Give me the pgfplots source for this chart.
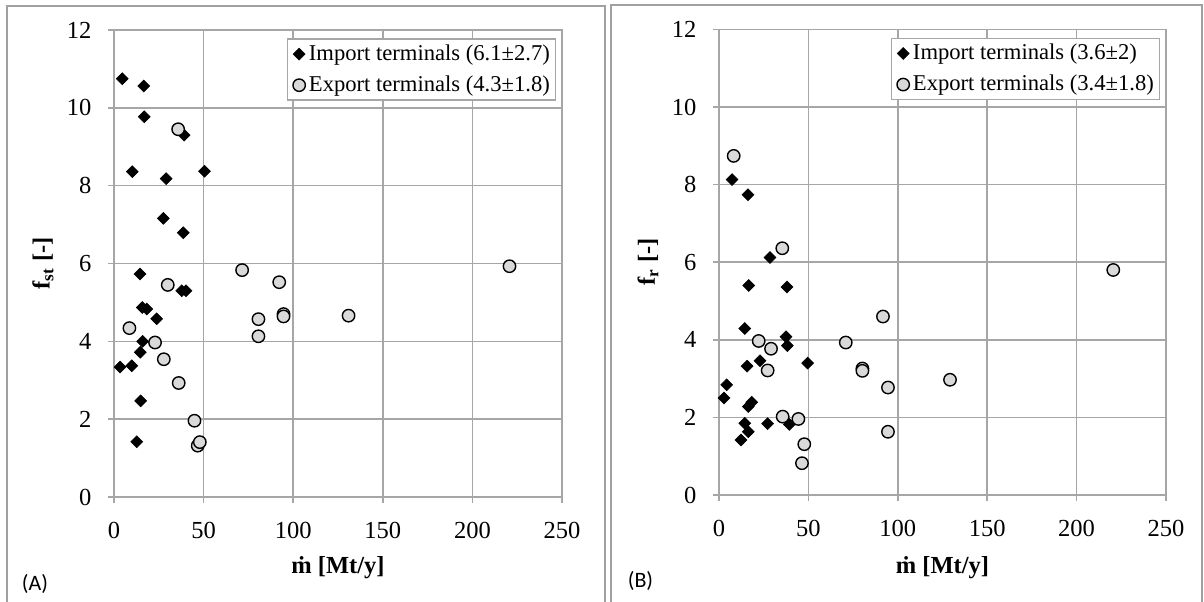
\documentclass[border=0pt]{standalone}
\usepackage{fontspec}
\setmainfont{Liberation Serif}
\newfontfamily\carlito{Carlito}
\usepackage{pgfplots}
\pgfplotsset{compat=1.18}
\definecolor{ltgray}{HTML}{D9D9D9}
\definecolor{gridgray}{HTML}{A6A6A6}
\definecolor{framegray}{HTML}{A0A0A0}

\pgfplotsset{
  panel/.style={
    scale only axis,
    anchor=south west,
    xmin=0, xmax=250, ymin=0, ymax=12,
    xtick={0,50,...,250}, ytick={0,2,...,12},
    grid=major,
    grid style={gridgray, line width=0.75pt},
    axis line style={gridgray, line width=0.75pt},
    tick style={gridgray, line width=0.75pt},
    tick align=outside, major tick length=3pt, tick pos=left,
    /pgf/number format/assume math mode=true,
    ticklabel style={font=\fontsize{12.25}{14}\selectfont, text=black},
    yticklabel style={xshift=-4.8pt},
    xticklabel style={yshift=-6pt},
    label style={font=\fontsize{12.25}{14}\selectfont\bfseries},
    legend style={font=\fontsize{11.3}{13}\selectfont, draw=gridgray, line width=0.75pt,
      at={(0.987,0.982)}, anchor=north east, inner sep=1pt, row sep=2.6pt,
      nodes={inner sep=1.8pt}},
    legend cell align=left,
    legend image code/.code={\path (-1.4pt,0pt); \draw[#1, only marks] plot coordinates {(3pt,0pt)};},
    imp/.style={only marks, mark=square*, mark size=2.1pt,
      mark options={rotate=45, fill=black, draw=black, line width=0.3pt}},
    exp/.style={only marks, mark=*, mark size=3.1pt,
      mark options={fill=ltgray, draw=black, line width=0.7pt}},
  }
}

\begin{document}
\begin{tikzpicture}
\useasboundingbox (0,0) rectangle (602pt,300.5pt);
\draw[framegray, line width=1pt] (3.5pt,-5pt) -- (3.5pt,297.5pt) -- (302.5pt,297.5pt) -- (302.5pt,-5pt);
\draw[framegray, line width=1pt] (305.5pt,-5pt) -- (305.5pt,298pt) -- (601pt,298pt) -- (601pt,-5pt);

\begin{axis}[panel, at={(57pt,52pt)}, width=224pt, height=233.5pt,
  xlabel={ṁ [Mt/y]}, ylabel={f\textsubscript{st} [-]},
  xlabel style={at={(axis description cs:0.5,-0.152)}, anchor=center},
  ylabel style={at={(axis description cs:-0.1585,0.5)}, anchor=center}]
\addplot[imp] coordinates {
(4.6,10.75) (16.6,10.56) (16.9,9.77) (39.1,9.30) (10.2,8.36) (29.1,8.18)
(50.5,8.37) (27.5,7.16) (38.7,6.79) (14.5,5.73) (37.8,5.30) (40.2,5.30)
(15.8,4.87) (18.3,4.83) (23.8,4.58) (16.0,4.00) (14.7,3.72) (3.4,3.34)
(9.9,3.37) (14.9,2.47) (12.7,1.42)
};
\addlegendentry{Import terminals (6.1±2.7)}
\addplot[exp] coordinates {
(35.8,9.45) (30.0,5.45) (71.5,5.83) (92.2,5.52) (8.6,4.34) (80.6,4.57)
(80.6,4.13) (94.6,4.70) (94.6,4.64) (130.9,4.66) (22.9,3.97) (27.8,3.54)
(36.1,2.93) (44.9,1.96) (46.7,1.32) (47.9,1.41) (220.7,5.93)
};
\addlegendentry{Export terminals (4.3±1.8)}
\end{axis}

\begin{axis}[panel, at={(359.5pt,53pt)}, width=223.5pt, height=232.8pt,
  xlabel={ṁ [Mt/y]}, ylabel={f\textsubscript{r} [-]},
  xlabel style={at={(axis description cs:0.5,-0.157)}, anchor=center},
  ylabel style={at={(axis description cs:-0.159,0.5)}, anchor=center}]
\addplot[imp] coordinates {
(7.3,8.13) (16.2,7.74) (28.5,6.12) (16.6,5.40) (38.0,5.36) (14.4,4.29)
(37.5,4.08) (38.2,3.85) (22.9,3.46) (49.6,3.40) (15.7,3.32) (4.3,2.84)
(2.8,2.50) (18.3,2.39) (16.4,2.28) (14.4,1.85) (27.2,1.84) (39.3,1.82)
(16.4,1.63) (12.3,1.42)
};
\addlegendentry{Import terminals (3.6±2)}
\addplot[exp] coordinates {
(8.2,8.74) (35.4,6.36) (91.7,4.60) (22.2,3.97) (70.9,3.93) (29.1,3.77)
(27.2,3.21) (80.2,3.26) (80.2,3.20) (94.5,2.77) (35.6,2.02) (44.4,1.96)
(94.5,1.63) (47.7,1.31) (46.4,0.82) (129.2,2.97) (220.5,5.80)
};
\addlegendentry{Export terminals (3.4±1.8)}
\end{axis}

\node[font=\carlito\fontsize{11}{13}\selectfont] at (17.5pt,8.5pt) {(A)};
\node[font=\carlito\fontsize{11}{13}\selectfont] at (320.25pt,10pt) {(B)};
\end{tikzpicture}
\end{document}
